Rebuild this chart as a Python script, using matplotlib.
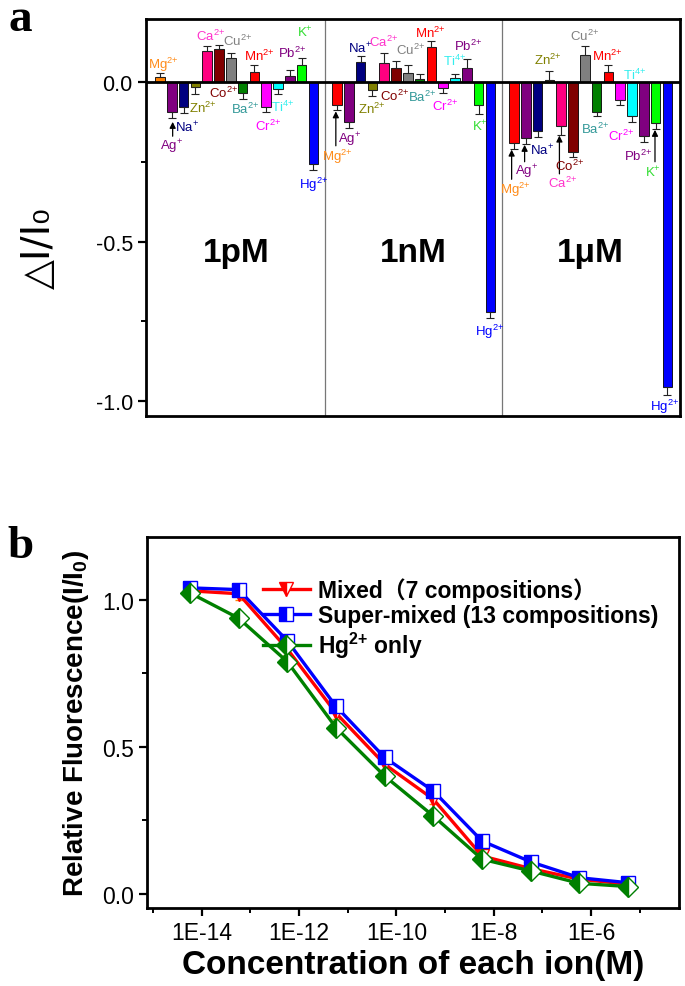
import matplotlib
matplotlib.use('Agg')
import matplotlib.pyplot as plt
import numpy as np
from matplotlib.ticker import FixedLocator, MultipleLocator, NullFormatter, FixedFormatter

plt.rcParams['font.family'] = ['Liberation Sans', 'DejaVu Sans']
plt.rcParams['mathtext.fontset'] = 'custom'
plt.rcParams['mathtext.rm'] = 'Liberation Sans'
plt.rcParams['mathtext.it'] = 'Liberation Sans:italic'
plt.rcParams['mathtext.bf'] = 'Liberation Sans:bold'
plt.rcParams['mathtext.default'] = 'regular'

# ---------------- data: panel a ----------------
ions = ['Mg', 'Ag', 'Na', 'Zn', 'Ca', 'Co', 'Cu', 'Ba', 'Mn', 'Cr', 'Ti', 'Pb', 'K', 'Hg']
charges = ['2+', '+', '+', '2+', '2+', '2+', '2+', '2+', '2+', '2+', '4+', '2+', '+', '2+']
groups = ['1pM', '1nM', '1μM']
dI_1pM = [0.017, -0.093, -0.079, -0.017, 0.096, 0.103, 0.075, -0.036, 0.031, -0.077, -0.022, 0.018, 0.053, -0.257]
err_1pM = [0.012, 0.020, 0.019, 0.021, 0.016, 0.013, 0.017, 0.017, 0.021, 0.017, 0.016, 0.021, 0.021, 0.019]
dI_1nM = [-0.072, -0.126, 0.062, -0.024, 0.060, 0.043, 0.028, 0.009, 0.109, -0.020, 0.014, 0.044, -0.072, -0.720]
err_1nM = [0.016, 0.018, 0.021, 0.019, 0.031, 0.023, 0.026, 0.016, 0.019, 0.015, 0.012, 0.028, 0.028, 0.020]
dI_1uM = [-0.192, -0.177, -0.153, 0.007, -0.139, -0.218, 0.085, -0.095, 0.030, -0.055, -0.108, -0.170, -0.128, -0.957]
err_1uM = [0.018, 0.018, 0.018, 0.028, 0.027, 0.018, 0.029, 0.013, 0.024, 0.016, 0.017, 0.019, 0.019, 0.024]

# ---------------- data: panel b ----------------
conc = [5.75e-15, 5.75e-14, 5.75e-13, 5.75e-12, 5.75e-11, 5.75e-10, 5.75e-9, 5.75e-8, 5.75e-7, 5.75e-6]
mixed = [1.030, 1.020, 0.832, 0.614, 0.440, 0.321, 0.128, 0.085, 0.049, 0.032]
super_mixed = [1.040, 1.034, 0.860, 0.637, 0.463, 0.349, 0.179, 0.108, 0.054, 0.037]
hg_only = [1.023, 0.937, 0.789, 0.565, 0.400, 0.264, 0.117, 0.077, 0.035, 0.024]
mixed_err = [0.02, 0.02, 0.02, 0.02, 0.02, 0.015, 0.015, 0.015, 0.015, 0.015]
super_err = [0.02, 0.02, 0.02, 0.02, 0.02, 0.02, 0.02, 0.015, 0.015, 0.015]
hg_err = [0.02, 0.02, 0.02, 0.02, 0.02, 0.02, 0.02, 0.02, 0.02, 0.02]
xtick_vals = [1e-14, 1e-12, 1e-10, 1e-8, 1e-6]
xtick_labels = ['1E-14', '1E-12', '1E-10', '1E-8', '1E-6']

# ---------------- styles ----------------
bar_colors = ['#FF8000', '#800080', '#000080', '#808000', '#FF0080', '#800000', '#808080',
              '#008000', '#FF0000', '#FF00FF', '#00FFFF', '#800080', '#00FF00', '#0000FF']
label_colors = ['#FF8C1A', '#800080', '#000080', '#808000', '#FF33CC', '#800000', '#808080',
                '#339999', '#FF0000', '#FF00FF', '#33EEEE', '#800080', '#33DD33', '#0000FF']

# label positions (data coords) for each group
lab_pos = [
    [(0.25, 0.056), (1.0, -0.20), (2.3, -0.141), (3.65, -0.079), (4.25, 0.147), (5.35, -0.033),
     (6.6, 0.129), (7.2, -0.082), (8.45, 0.082), (9.15, -0.137), (10.4, -0.075), (11.2, 0.094),
     (12.3, 0.157), (13.0, -0.318)],
    [(15.0, -0.231), (16.1, -0.179), (16.95, 0.106), (17.97, -0.083), (18.95, 0.128), (19.9, -0.041),
     (21.25, 0.101), (22.2, -0.045), (22.9, 0.156), (24.15, -0.072), (25.0, 0.067), (26.1, 0.114),
     (27.1, -0.137), (27.95, -0.78)],
    [(30.1, -0.335), (31.1, -0.278), (32.4, -0.212), (32.9, 0.07), (34.1, -0.314), (34.75, -0.26),
     (36.0, 0.145), (36.9, -0.145), (37.95, 0.082), (39.05, -0.166), (40.25, 0.025), (40.5, -0.229),
     (41.8, -0.28), (42.8, -1.015)],
]
arrows = [(1.07, -0.17, -0.125), (14.9, -0.20, -0.092), (29.8, -0.305, -0.212),
          (30.9, -0.25, -0.197), (33.85, -0.288, -0.168), (41.95, -0.25, -0.15)]


def sup(c):
    # keep the sign glued to the number in the superscript
    return '$^{' + c.replace('+', '{+}') + '}$'


fig = plt.figure(figsize=(6.85, 9.87), dpi=100)

# ================= panel a =================
ax1 = fig.add_axes([146/685, 1-417/987, (680-146)/685, (417-20)/987])
data_groups = [dI_1pM, dI_1nM, dI_1uM]
err_groups = [err_1pM, err_1nM, err_1uM]
for g in range(3):
    vals = np.array(data_groups[g])
    errs = np.array(err_groups[g])
    x = g * 15 + np.arange(len(ions))
    cols = list(bar_colors)
    if g > 0:
        cols[0] = '#FF0000'
    ax1.bar(x, vals, width=0.82, color=cols, edgecolor='black', linewidth=0.6, zorder=2)
    lower = np.where(vals < 0, errs, 0)
    upper = np.where(vals >= 0, errs, 0)
    ax1.errorbar(x, vals, yerr=[lower, upper], fmt='none', ecolor='#222222',
                 elinewidth=0.8, capsize=3, capthick=0.8, zorder=3)
    for i, ion in enumerate(ions):
        px, py = lab_pos[g][i]
        ax1.text(px, py, ion + sup(charges[i]), color=label_colors[i],
                 fontsize=9.5, ha='center', va='center', zorder=4)
    ax1.text(g * 15 + 6.5, -0.533, groups[g], fontsize=24,
             fontweight='bold', ha='center', va='center')

for (ax_, y0, y1) in arrows:
    ax1.annotate('', xy=(ax_, y1), xytext=(ax_, y0),
                 arrowprops=dict(arrowstyle='-|>', color='black', lw=0.9,
                                 mutation_scale=9, shrinkA=0, shrinkB=0))

ax1.axhline(0, color='black', lw=2.0, zorder=3)
for xd in [14, 29]:
    ax1.axvline(xd - 0.02, color='#777777', lw=0.9, zorder=1)
ax1.set_xlim(-1.19, 44.07)
ax1.set_ylim(-1.047, 0.1975)
ax1.set_xticks([])
ax1.yaxis.set_major_locator(FixedLocator([-1.0, -0.5, 0.0]))
ax1.yaxis.set_major_formatter(FixedFormatter(['-1.0', '-0.5', '0.0']))
ax1.yaxis.set_minor_locator(FixedLocator([-0.75, -0.25]))
ax1.tick_params(axis='y', which='major', direction='out', length=6, width=1.6, labelsize=15.5)
ax1.tick_params(axis='y', which='minor', direction='out', length=3.5, width=1.4)
for s in ax1.spines.values():
    s.set_linewidth(2.0)
ax1.set_ylabel('△I/I\u2080', fontsize=28, family=['DejaVu Sans'])
ax1.yaxis.set_label_coords((58 - 146) / 534, (417 - 248) / 397)

fig.text(20/685, 1-20/987, 'a', fontsize=34, fontweight='bold', family='Liberation Serif',
         ha='center', va='center')

# ================= panel b =================
ax2 = fig.add_axes([147/685, 1-909.3/987, (679.3-147)/685, (909.3-538)/987])
ax2.set_xscale('log')
ax2.errorbar(conc, mixed, yerr=mixed_err, fmt='none', ecolor='#FF8000', elinewidth=0.8,
             capsize=3, zorder=2)
ax2.errorbar(conc, super_mixed, yerr=super_err, fmt='none', ecolor='#FF9900', elinewidth=0.8,
             capsize=3, zorder=2)
ax2.errorbar(conc, hg_only, yerr=hg_err, fmt='none', ecolor='#00E5E5', elinewidth=0.8,
             capsize=3, zorder=2)
ax2.plot(conc, mixed, color='#FF0000', lw=2.4, marker='v', ms=10, fillstyle='left',
         markerfacecolor='#FF0000', markerfacecoloralt='white', markeredgecolor='#FF0000',
         markeredgewidth=1.0, label='Mixed\uff087 compositions\uff09', zorder=3)
ax2.plot(conc, super_mixed, color='#0000FF', lw=2.4, marker='s', ms=10, fillstyle='left',
         markerfacecolor='#0000FF', markerfacecoloralt='white', markeredgecolor='#0000FF',
         markeredgewidth=1.0, label='Super-mixed (13 compositions)', zorder=4)
ax2.plot(conc, hg_only, color='#008000', lw=2.4, marker='D', ms=10, fillstyle='left',
         markerfacecolor='#008000', markerfacecoloralt='white', markeredgecolor='#008000',
         markeredgewidth=1.0, label='Hg' + sup('2+') + ' only', zorder=5)

ax2.set_xlim(10**-15.12, 10**-4.19)
ax2.set_ylim(-0.05, 1.213)
ax2.xaxis.set_major_locator(FixedLocator(xtick_vals))
ax2.xaxis.set_major_formatter(FixedFormatter(xtick_labels))
ax2.xaxis.set_minor_locator(FixedLocator([1e-15, 1e-13, 1e-11, 1e-9, 1e-7, 1e-5]))
ax2.xaxis.set_minor_formatter(NullFormatter())
ax2.yaxis.set_major_locator(MultipleLocator(0.5))
ax2.yaxis.set_minor_locator(MultipleLocator(0.25))
ax2.tick_params(which='major', direction='out', length=6, width=1.6, labelsize=16.5)
ax2.tick_params(which='minor', direction='out', length=3.5, width=1.4)
for s in ax2.spines.values():
    s.set_linewidth(2.0)
ax2.set_ylabel('Relative Fluorescence(I/I$_0$)', fontsize=20, fontweight='bold', labelpad=8)
ax2.set_xlabel('Concentration of each ion(M)', fontsize=24, fontweight='bold', labelpad=3)

leg = ax2.legend(loc='upper left', bbox_to_anchor=(263/685, 1-578/987), bbox_transform=fig.transFigure,
                 frameon=False, handlelength=2.05, handletextpad=0.35, labelspacing=0.12,
                 borderpad=0, borderaxespad=0,
                 prop={'family': ['Liberation Sans', 'Noto Sans CJK SC'], 'weight': 'bold', 'size': 16.5})

fig.text(20/685, 1-547/987, 'b', fontsize=34, fontweight='bold', family='Liberation Serif',
         ha='center', va='center')

fig.savefig('out.png', dpi=100)
